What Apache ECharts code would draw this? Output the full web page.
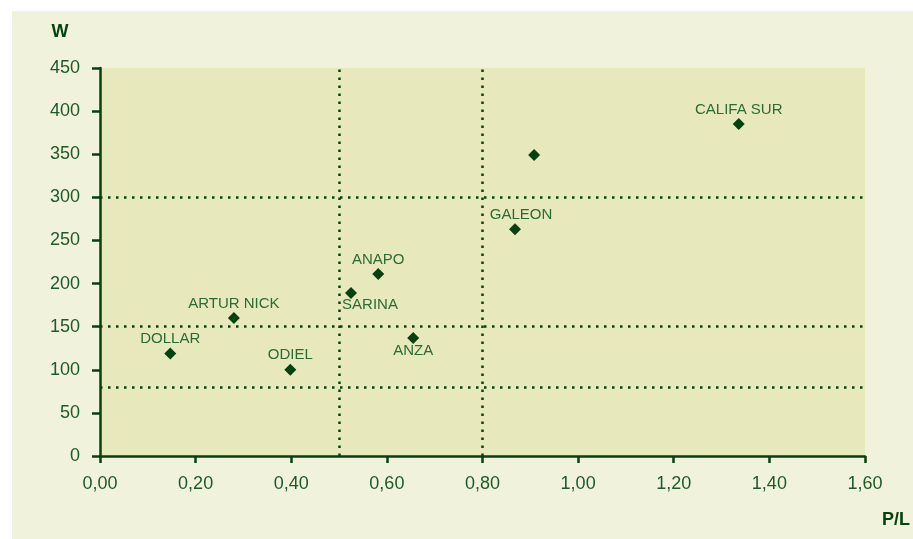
<!DOCTYPE html>
<html>
<head>
<meta charset="utf-8">
<script src="https://cdn.jsdelivr.net/npm/echarts@6/dist/echarts.min.js"></script>
<style>html,body{margin:0;padding:0;background:#fff}#c{width:913px;height:539px}</style>
</head>
<body>
<div id="c"></div>
<script>
const names = ['DOLLAR', 'ARTUR NICK', 'ODIEL', 'SARINA', 'ANAPO', 'ANZA', 'GALEON', '', 'CALIFA SUR'];
const plValues = [0.147, 0.280, 0.398, 0.525, 0.582, 0.655, 0.868, 0.908, 1.336];
const wValues = [119, 160, 100, 189, 211, 137, 263, 349, 385];
const xRefLines = [0.5, 0.8];
const yRefLines = [300, 150, 80];
const xName = 'P/L';
const yName = 'W';

const dark = '#05420f';
const textCol = '#1d5a28';
const labelCol = '#2c6a34';
const font = 'Liberation Sans, Arial, sans-serif';

const labelPlacement = {
  'SARINA': {position: 'bottom', offset: [19, -3]},
  'ANZA': {position: 'bottom', offset: [0, -2]},
  'GALEON': {position: 'top', offset: [6, 0]}
};

const data = plValues.map((x, i) => {
  const item = {name: names[i], value: [x, wValues[i]]};
  const p = labelPlacement[names[i]];
  if (p) item.label = {position: p.position, offset: p.offset};
  return item;
});

const dotted = {color: dark, width: 2.5, type: [2.5, 5.5], cap: 'butt', opacity: 1};
const markData = xRefLines.map(v => ({xAxis: v})).concat(yRefLines.map(v => ({yAxis: v})));

const chart = echarts.init(document.getElementById('c'), null, {renderer: 'canvas'});
chart.setOption({
  backgroundColor: '#ffffff',
  animation: false,
  graphic: [{
    type: 'rect', z: -10, silent: true,
    shape: {x: 12, y: 11, width: 913, height: 539},
    style: {fill: '#f1f2dc'}
  }],
  grid: {left: 100, top: 68, right: 46, bottom: 83, show: true, backgroundColor: '#e7e9bd', borderWidth: 0},
  xAxis: {
    type: 'value', min: 0, max: 1.6, interval: 0.2,
    name: xName, nameLocation: 'end', nameGap: 17,
    nameTextStyle: {color: dark, fontWeight: 'bold', fontSize: 18, fontFamily: font, verticalAlign: 'top', padding: [55, 0, 0, 0]},
    axisLine: {show: true, lineStyle: {color: dark, width: 2.5}},
    axisTick: {show: true, length: 7, lineStyle: {color: dark, width: 2.5}},
    splitLine: {show: false},
    axisLabel: {color: textCol, fontSize: 18, fontFamily: font, margin: 19,
      formatter: v => v.toFixed(2).replace('.', ',')}
  },
  yAxis: {
    type: 'value', min: 0, max: 450, interval: 50,
    name: yName, nameLocation: 'end', nameGap: 27,
    nameTextStyle: {color: dark, fontWeight: 'bold', fontSize: 18, fontFamily: font, align: 'center', padding: [0, 80, 0, 0]},
    axisLine: {show: true, lineStyle: {color: dark, width: 2.5}},
    axisTick: {show: true, length: 8, lineStyle: {color: dark, width: 2.5}},
    splitLine: {show: false},
    axisLabel: {color: textCol, fontSize: 18, fontFamily: font, margin: 20}
  },
  series: [{
    type: 'scatter',
    symbol: 'diamond',
    symbolSize: 12,
    itemStyle: {color: dark, opacity: 1},
    data: data,
    label: {
      show: true, position: 'top', distance: 1,
      formatter: p => p.name,
      color: labelCol, fontSize: 15, fontFamily: font
    },
    markLine: {
      silent: true, symbol: 'none', label: {show: false},
      lineStyle: dotted,
      data: markData
    }
  }]
});
</script>
</body>
</html>
